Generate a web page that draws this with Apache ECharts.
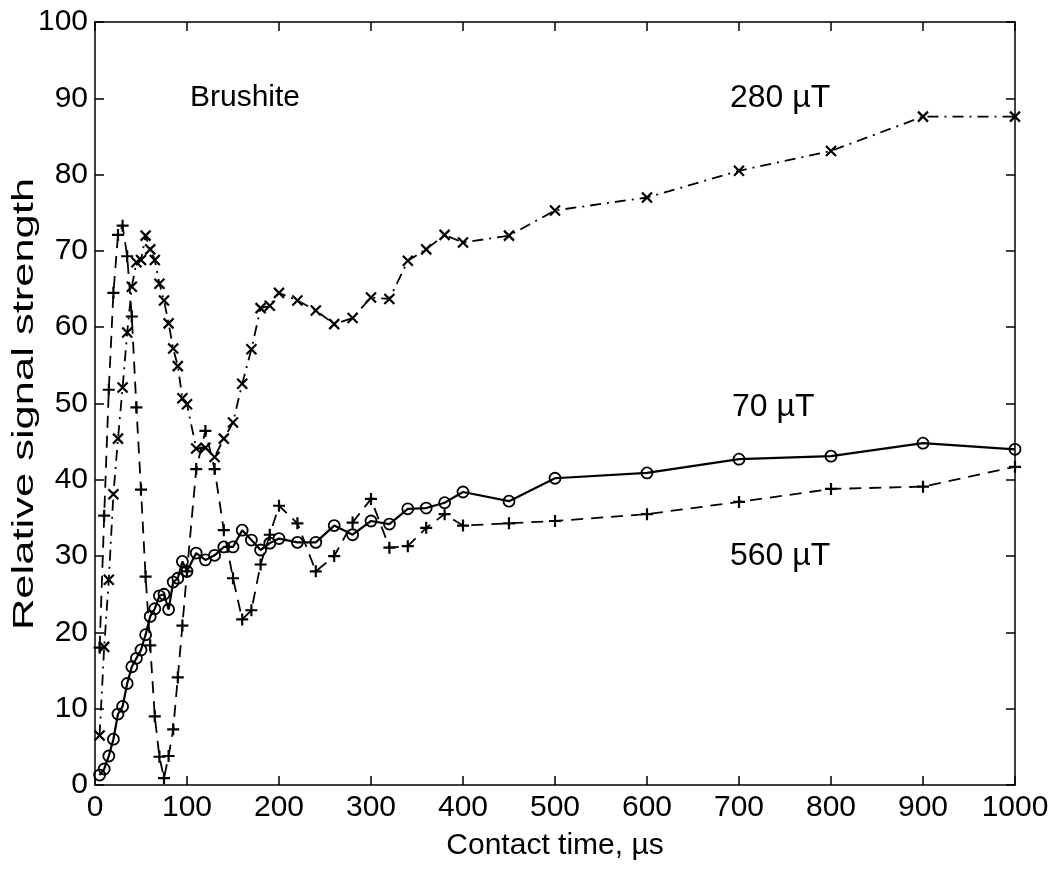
<!DOCTYPE html>
<html>
<head>
<meta charset="utf-8">
<script src="https://cdn.jsdelivr.net/npm/echarts@6/dist/echarts.min.js"></script>
<style>
html,body{margin:0;padding:0;background:#fff;}
#chart{width:1055px;height:869px;}
</style>
</head>
<body>
<div id="chart"></div>
<script>
// Contact times (µs)
const times = [5,10,15,20,25,30,35,40,45,50,55,60,65,70,75,80,85,90,95,100,
  110,120,130,140,150,160,170,180,190,200,
  220,240,260,280,300,320,340,360,380,400,
  450,500,600,700,800,900,1000];
// 280 µT (x markers, dash-dot)
const s280 = [6.5,18.1,26.9,38.1,45.4,52.1,59.3,65.3,68.5,68.8,72.0,70.2,68.8,65.7,63.5,60.5,57.2,54.9,50.7,49.9,
  44.1,44.2,43.0,45.4,47.5,52.6,57.1,62.5,62.8,64.5,
  63.5,62.2,60.4,61.2,63.9,63.7,68.7,70.2,72.1,71.1,
  72.0,75.3,77.0,80.5,83.1,87.6,87.6];
// 70 µT (circles, solid)
const s70 = [1.3,2.1,3.8,6.0,9.3,10.3,13.3,15.5,16.6,17.7,19.7,22.1,23.1,24.8,25.0,23.0,26.6,27.1,29.3,28.0,
  30.4,29.5,30.1,31.2,31.2,33.4,32.1,30.8,31.7,32.3,
  31.8,31.8,34.0,32.8,34.6,34.2,36.2,36.3,37.0,38.4,
  37.2,40.2,40.9,42.7,43.1,44.8,44.0];
// 560 µT (+ markers, dashed)
const s560 = [18.0,35.3,51.8,64.5,72.1,73.3,69.3,61.4,49.5,38.7,27.3,18.3,9.0,3.7,0.9,3.8,7.3,14.1,20.9,28.0,
  41.4,46.4,41.4,33.4,27.1,21.7,22.9,28.9,32.8,36.6,
  34.3,28.0,30.0,34.4,37.5,31.1,31.3,33.7,35.5,34.0,
  34.3,34.6,35.5,37.1,38.8,39.1,41.7];
const xTicks = [0,100,200,300,400,500,600,700,800,900,1000];
const yTicks = [0,10,20,30,40,50,60,70,80,90,100];
const labels = {brushite:'Brushite', l280:'280 µT', l70:'70 µT', l560:'560 µT'};
const xName = 'Contact time, µs';
const yName = 'Relative signal strength';

const pair = arr => times.map((t,i)=>[t,arr[i]]);
const FONT = '"Liberation Sans", Arial, Helvetica, sans-serif';
const crossPath = 'path://M0,0L10,10M10,0L0,10';
const plusPath = 'path://M5,0L5,10M0,5L10,5';

const chart = echarts.init(document.getElementById('chart'), null, {renderer:'canvas'});
const axisCommon = {
  axisLine:{show:true, onZero:false, lineStyle:{color:'#000', width:1.5}},
  axisTick:{show:true, inside:true, length:9, lineStyle:{color:'#000', width:1.5}},
  splitLine:{show:false}
};
chart.setOption({
  animation:false,
  backgroundColor:'#fff',
  grid:{left:95, right:40, top:22, bottom:84, containLabel:false, outerBoundsMode:'none'},
  xAxis:[
    Object.assign({type:'value', min:0, max:1000, interval:100, position:'bottom',
      name:xName, nameLocation:'middle', nameGap:46,
      nameTextStyle:{fontFamily:FONT, fontSize:30, color:'#000'},
      axisLabel:{fontFamily:FONT, fontSize:30, color:'#000', margin:8,
        formatter: v => xTicks.includes(v) ? String(v) : ''}}, axisCommon),
    Object.assign({type:'value', min:0, max:1000, interval:100, position:'top',
      axisLabel:{show:false}}, axisCommon)
  ],
  yAxis:[
    Object.assign({type:'value', min:0, max:100, interval:10, position:'left',
      axisLabel:{fontFamily:FONT, fontSize:30, color:'#000', margin:7,
        formatter: v => yTicks.includes(v) ? String(v) : ''}}, axisCommon),
    Object.assign({type:'value', min:0, max:100, interval:10, position:'right',
      axisLabel:{show:false}}, axisCommon)
  ],
  series:[
    {name:'280', type:'line', data:pair(s280), showAllSymbol:true,
      symbol:crossPath, symbolSize:10, symbolKeepAspect:true,
      itemStyle:{color:'none', borderColor:'#000', borderWidth:2.2},
      lineStyle:{color:'#000', width:1.8, type:[11,6,2,6]}, z:3},
    {name:'70', type:'line', data:pair(s70), showAllSymbol:true,
      symbol:'circle', symbolSize:11,
      itemStyle:{color:'none', borderColor:'#000', borderWidth:1.8},
      lineStyle:{color:'#000', width:2.2, type:'solid'}, z:4},
    {name:'560', type:'line', data:pair(s560), showAllSymbol:true,
      symbol:plusPath, symbolSize:12, symbolKeepAspect:true,
      itemStyle:{color:'none', borderColor:'#000', borderWidth:2.2},
      lineStyle:{color:'#000', width:1.8, type:[12,8]}, z:2}
  ],
  graphic:[
    {type:'text', x:25, y:404, rotation:Math.PI/2, scaleX:1.5, scaleY:1,
      style:{text:yName, font:'29px '+FONT, fill:'#000', align:'center', verticalAlign:'middle'}},
    {type:'text', left:190, top:83, style:{text:labels.brushite, font:'30px '+FONT, fill:'#000'}},
    {type:'text', left:730, top:82, style:{text:labels.l280, font:'32px '+FONT, fill:'#000'}},
    {type:'text', left:732, top:391, style:{text:labels.l70, font:'32px '+FONT, fill:'#000'}},
    {type:'text', left:730, top:540, style:{text:labels.l560, font:'32px '+FONT, fill:'#000'}}
  ]
});
</script>
</body>
</html>
